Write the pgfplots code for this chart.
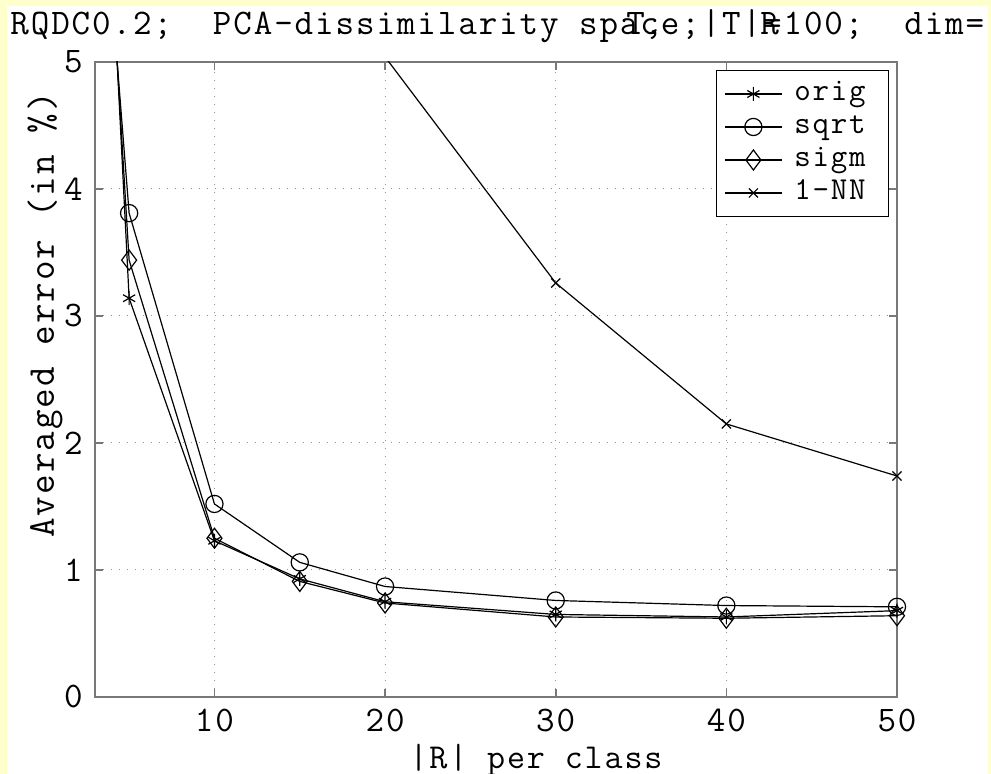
\documentclass[border=0pt]{standalone}
\usepackage{fontspec}
\setmainfont{Latin Modern Mono}[LetterSpace=5.3]
\usepackage{pgfplots}
\pgfplotsset{compat=1.18}
\definecolor{bgyellow}{RGB}{255,255,204}
\definecolor{axgray}{RGB}{120,120,120}
\definecolor{gridgray}{RGB}{150,150,150}

\pgfplotstableread{
x y
2 11.1
5 3.14
10 1.23
15 0.93
20 0.75
30 0.65
40 0.63
50 0.68
}\origdata
\pgfplotstableread{
x y
2 8.9
5 3.81
10 1.52
15 1.06
20 0.87
30 0.76
40 0.72
50 0.71
}\sqrtdata
\pgfplotstableread{
x y
2 10.1
5 3.44
10 1.25
15 0.91
20 0.74
30 0.63
40 0.62
50 0.64
}\sigmdata
\pgfplotstableread{
x y
2 30
5 18
10 10
15 6.8
20 5.04
30 3.26
40 2.15
50 1.74
}\nndata

\begin{document}
\fontsize{18}{21}\selectfont
\begin{tikzpicture}
\useasboundingbox[fill=bgyellow] (-47.5pt,-38.5pt) rectangle (448pt,348.5pt);
\fill[white] (-44pt,-38.5pt) rectangle (446.5pt,345.5pt);
\begin{axis}[
  at={(0,0)}, anchor=south west,
  scale only axis, width=401pt, height=317.5pt,
  xmin=3, xmax=50, ymin=0, ymax=5,
  xtick={10,20,30,40,50}, ytick={0,1,2,3,4,5},
  tick align=inside, tick pos=both, major tick length=4pt,
  grid=major,
  major grid style={gridgray, line width=0.5pt, dash pattern=on 0.6pt off 3.4pt},
  axis line style={axgray, line width=0.9pt},
  every tick/.style={axgray, line width=0.8pt},
  tick label style={font=\fontsize{18}{21}\selectfont, black},
  /pgf/number format/assume math mode=true,
  legend style={at={(1,1)}, anchor=north east, xshift=-4pt, yshift=-4pt,
    draw=black, line width=0.5pt, font=\fontsize{16}{19}\selectfont,
    inner xsep=2pt, inner ysep=3.5pt, row sep=0pt,
    nodes={inner xsep=1.5pt, inner ysep=1.25pt, text height=10.5pt, text depth=3.5pt}},
  legend cell align=left,
  legend image code/.code={\path (-2pt,0pt) (33pt,0pt);\draw[mark repeat=2,mark phase=2] plot coordinates {(0pt,0pt) (14.25pt,0pt) (28.5pt,0pt)};},
]
% lines (all points, no visible marks)
\addplot[black, line width=0.6pt, mark=asterisk, mark size=3.5pt, mark options={solid}, mark repeat=100, mark phase=100] table {\origdata};
\addlegendentry{orig\rule{8pt}{0pt}}
\addplot[black, line width=0.6pt, mark=o, mark size=4.3pt, mark options={solid}, mark repeat=100, mark phase=100] table {\sqrtdata};
\addlegendentry{sqrt\rule{8pt}{0pt}}
\addplot[black, line width=0.6pt, mark=diamond, mark size=5pt, mark options={solid}, mark repeat=100, mark phase=100] table {\sigmdata};
\addlegendentry{sigm\rule{8pt}{0pt}}
\addplot[black, line width=0.6pt, mark=x, mark size=3.2pt, mark options={solid}, mark repeat=100, mark phase=100] table {\nndata};
\addlegendentry{1-NN\rule{8pt}{0pt}}
% markers at the points inside the view
\addplot[black, only marks, line width=0.6pt, mark=asterisk, mark size=3.5pt, skip coords between index={0}{1}, forget plot] table {\origdata};
\addplot[black, only marks, line width=0.6pt, mark=o, mark size=4.3pt, skip coords between index={0}{1}, forget plot] table {\sqrtdata};
\addplot[black, only marks, line width=0.6pt, mark=diamond, mark size=5pt, skip coords between index={0}{1}, forget plot] table {\sigmdata};
\addplot[black, only marks, line width=0.6pt, mark=x, mark size=3.2pt, skip coords between index={0}{5}, forget plot] table {\nndata};
\end{axis}
\node[anchor=base west, inner sep=0pt, font=\fontsize{18}{21}\selectfont] (title) at (-42.5pt,331pt) {RQDC0.2;\ \ PCA-dissimilarity space;|T|=100;\ \ dim=(};
\node[anchor=base west, inner sep=0pt, font=\fontsize{18}{21}\selectfont] at ([xshift=308pt]title.base west) {T};
\node[anchor=base west, inner sep=0pt, font=\fontsize{18}{21}\selectfont] at ([xshift=317pt]title.base west) {,};
\node[anchor=base west, inner sep=0pt, font=\fontsize{18}{21}\selectfont] at ([xshift=375pt]title.base west) {R};
\node[rotate=90, inner sep=0pt, font=\fontsize{19}{22}\selectfont] at (-25pt,191pt) {Averaged error (in \%)};
\node[inner sep=0pt, font=\fontsize{17.5}{20}\selectfont] at (220.5pt,-31.5pt) {|R| per class};
\end{tikzpicture}
\end{document}
